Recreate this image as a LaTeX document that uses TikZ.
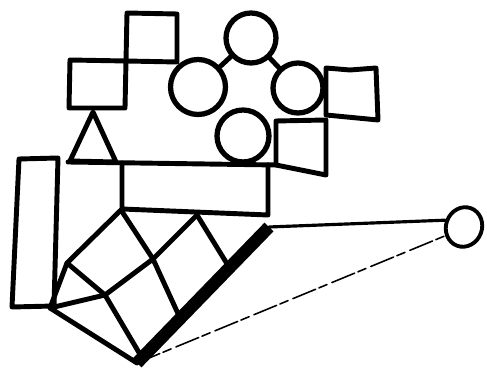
\documentclass[tikz,border=0pt]{standalone}
\usepackage{tikz}
\usetikzlibrary{shapes.geometric}

\tikzset{
  ink/.style={line width=2.8pt, line join=round, line cap=round},
  ring/.style={circle, draw, line width=3pt, inner sep=0pt},
  heavy/.style={line width=0.25cm, line cap=butt},
  wire/.style={line width=1.8pt, line cap=round},
  faint/.style={line width=0.9pt, dash pattern=on 14pt off 2pt on 5pt off 3pt},
}

\begin{document}
\begin{tikzpicture}[x=0.02cm, y=-0.02cm, ink]
  \useasboundingbox (0,0) rectangle (487,374);

  % Squares at the top
  \draw (127,13) -- (177,14) -- (177,62) -- (126,61) -- cycle;
  \draw (70,60) -- (126,61) -- (125,108) -- (69,108) -- cycle;
  \draw (326,68) -- (350,70) -- (376,68) -- (378,120) -- (326,115) -- cycle;
  \draw (276,121) -- (326,120) -- (326,175) -- (276,165) -- cycle;

  % Triangle and long line
  \draw (93,112) -- (70,161) -- (116,162) -- cycle;
  \draw (68,162) -- (276,165);

  % Circles
  \node[ring, minimum size=1.1cm] (cleft) at (198,87) {};
  \node[ring, minimum size=1.0cm] (ctop) at (251,38) {};
  \node[ring, minimum size=1.0cm] (cright) at (298,88) {};
  \node[ring, minimum size=1.04cm] (cbottom) at (243,136) {};
  \draw (cleft) -- (ctop);
  \draw (ctop) -- (cright);

  % Wide rectangle and tall rectangle
  \draw (122,163) -- (122,209) -- (268,215) -- (268,165);
  \draw (19,159) -- (58,158) -- (54,306) -- (12,307) -- cycle;

  % Grid points
  \coordinate (tl) at (121,210);
  \coordinate (kk) at (67,263);
  \coordinate (lf) at (50,308);
  \coordinate (bt) at (137,363);
  \coordinate (tr) at (269,227);
  \coordinate (t2) at (197,215);
  \coordinate (q) at (153,259);
  \coordinate (p) at (105,295);
  \coordinate (q2) at (180,318);
  \coordinate (t2e) at (229,267);
  \coordinate (pe) at (141,356);

  % Grid
  \draw (tl) -- (kk) -- (lf) -- (bt);
  \draw (tl) -- (q) -- (q2);
  \draw (t2) -- (t2e);
  \draw (t2) -- (q) -- (p) -- (lf);
  \draw (kk) -- (p) -- (pe);
  \draw[heavy] (bt) -- (tr);

  % Small circle on the right
  \node[ellipse, draw, line width=2.2pt, minimum width=0.72cm, minimum height=0.8cm, inner sep=0pt, rotate=-20] (tip) at (464,227) {};
  \draw[wire] (tr) -- (tip.west);
  \draw[faint] (bt) -- (tip.225);
\end{tikzpicture}
\end{document}
